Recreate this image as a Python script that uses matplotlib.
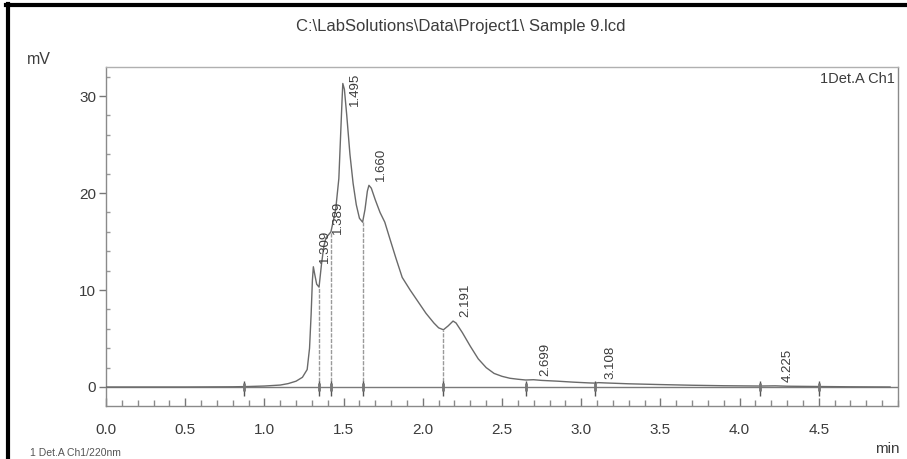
import matplotlib
matplotlib.use("Agg")
import matplotlib.pyplot as plt
from matplotlib.lines import Line2D
from matplotlib.ticker import MultipleLocator

plt.rcParams['font.family'] = ['Liberation Sans', 'DejaVu Sans']

# chromatogram trace (min, mV)
time_min = [0.00, 0.50, 0.80, 0.90, 1.00, 1.10, 1.15, 1.20, 1.24, 1.27,
            1.285, 1.295, 1.303, 1.309, 1.318, 1.330, 1.345, 1.360, 1.375, 1.389,
            1.400, 1.420, 1.450, 1.470, 1.480, 1.490, 1.495, 1.505, 1.520, 1.540,
            1.560, 1.580, 1.600, 1.620, 1.635, 1.650, 1.660, 1.675, 1.700, 1.730,
            1.760, 1.790, 1.830, 1.870, 1.920, 1.970, 2.020, 2.070, 2.100, 2.130,
            2.160, 2.191, 2.210, 2.250, 2.300, 2.350, 2.400, 2.450, 2.500, 2.550,
            2.600, 2.650, 2.699, 2.750, 2.850, 2.950, 3.050, 3.090, 3.108, 3.150,
            3.300, 3.500, 3.700, 3.900, 4.130, 4.225, 4.300, 4.500, 4.700, 4.950]
signal_mv = [0.00, 0.00, 0.02, 0.05, 0.10, 0.20, 0.35, 0.60, 1.00, 1.80,
             4.00, 7.50, 11.0, 12.4, 11.6, 10.6, 10.3, 12.6, 14.5, 15.4,
             15.6, 16.0, 18.3, 21.5, 25.5, 29.5, 31.3, 30.7, 28.0, 24.0,
             21.0, 18.8, 17.4, 17.0, 18.3, 20.2, 20.8, 20.5, 19.3, 18.0,
             17.0, 15.4, 13.3, 11.3, 10.0, 8.80, 7.60, 6.60, 6.10, 5.90,
             6.30, 6.80, 6.60, 5.60, 4.20, 2.90, 2.00, 1.40, 1.10, 0.90,
             0.80, 0.72, 0.75, 0.68, 0.60, 0.50, 0.42, 0.40, 0.45, 0.42,
             0.33, 0.25, 0.18, 0.13, 0.10, 0.12, 0.08, 0.05, 0.02, 0.00]

# detected peaks
peak_rt = [1.309, 1.389, 1.495, 1.660, 2.191, 2.699, 3.108, 4.225]
peak_mv = [12.4, 15.4, 31.3, 20.8, 6.8, 0.75, 0.45, 0.12]

# integration boundaries and perpendicular drops
bound_rt = [0.87, 1.345, 1.42, 1.62, 2.13, 2.65, 3.09, 4.13, 4.50]
drop_rt = [1.345, 1.42, 1.62, 2.13]
drop_mv = [10.3, 16.0, 17.0, 5.9]

ink = '#3c3c3c'
trace = '#6a6a6a'

fig = plt.figure(figsize=(9.07, 4.59), dpi=100)
ax = fig.add_axes([106 / 907, 1 - 406 / 459, (898 - 106) / 907, (406 - 67) / 459])

ax.plot(time_min, signal_mv, color=trace, lw=1.0, zorder=3)
ax.axhline(0, color='#7a7a7a', lw=1.0, zorder=2)
ax.vlines(drop_rt, 0, drop_mv, colors='#9a9a9a', lw=1.0, linestyles=(0, (3, 1)), zorder=2)
ax.vlines(bound_rt, -0.9, 0.6, colors='#555555', lw=1.0, zorder=4)
ax.plot(bound_rt, [0] * len(bound_rt), ls='none', marker='|', ms=6, mew=2,
        color='#777777', zorder=4)

for rt, h in zip(peak_rt, peak_mv):
    ybase = min(h + 0.4, 29.0)
    ax.annotate(f'{rt:.3f}', xy=(rt, ybase), xytext=(12, 0), textcoords='offset pixels',
                rotation=90, ha='center', va='bottom', fontsize=9.5, color=ink)

ax.set_xlim(0, 5.0)
ax.set_ylim(-1.96, 33.0)
ax.set_xticks([0.0, 0.5, 1.0, 1.5, 2.0, 2.5, 3.0, 3.5, 4.0, 4.5])
ax.set_xticklabels([f'{v:.1f}' for v in ax.get_xticks()])
ax.xaxis.set_minor_locator(MultipleLocator(0.1))
ax.set_yticks([0, 10, 20, 30])
ax.yaxis.set_minor_locator(MultipleLocator(2))
ax.tick_params(axis='x', which='major', direction='in', length=6, width=1,
               color='#777777', labelsize=11, labelcolor=ink, pad=12)
ax.tick_params(axis='x', which='minor', direction='in', length=4, width=1, color='#8a8a8a')
ax.tick_params(axis='y', which='major', direction='out', length=5, width=1,
               color='#777777', labelsize=11, labelcolor=ink, pad=2)
ax.tick_params(axis='y', which='minor', direction='in', length=3, width=1, color='#9a9a9a')

for side in ['left', 'right', 'bottom', 'top']:
    ax.spines[side].set_color('#8a8a8a')
    ax.spines[side].set_linewidth(1.0)
ax.spines['top'].set_color('#b0b0b0')

ax.text(0.996, 0.985, '1Det.A Ch1', transform=ax.transAxes, ha='right', va='top',
        fontsize=10.5, color=ink)

fig.text(461 / 907, 1 - 27 / 459, 'C:\\LabSolutions\\Data\\Project1\\ Sample 9.lcd',
         ha='center', va='center', fontsize=12, color=ink)
fig.text(27 / 907, 1 - 60 / 459, 'mV', ha='left', va='center', fontsize=11.5, color=ink)
fig.text(900 / 907, 1 - 449 / 459, 'min', ha='right', va='center', fontsize=11, color=ink)
fig.text(30 / 907, 1 - 458 / 459, '1 Det.A Ch1/220nm', ha='left', va='bottom',
         fontsize=7.5, color='#555555')

# dark frame along the left and top edges
fig.add_artist(Line2D([7.5 / 907, 7.5 / 907], [0, 1 - 4 / 459], color='black', lw=3))
fig.add_artist(Line2D([6 / 907, 1], [1 - 4.5 / 459, 1 - 4.5 / 459], color='black', lw=3))

fig.savefig('out.png', dpi=100)
